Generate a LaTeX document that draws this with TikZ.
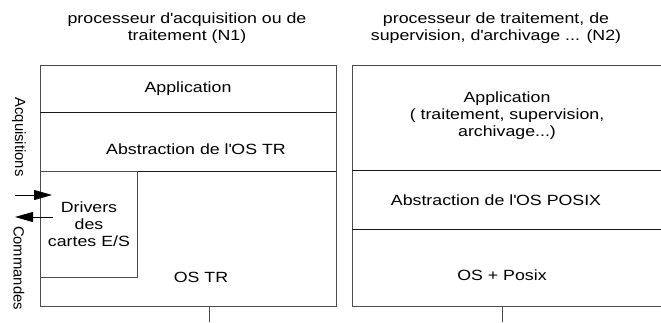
\documentclass[tikz,border=0pt]{standalone}
\usepackage{fontspec}
\setmainfont{Liberation Sans}[FakeStretch=1.2]
\newfontfamily\sidefont{Liberation Sans}
\usetikzlibrary{arrows.meta}
\newcommand{\q}{\textquotesingle}

\begin{document}
\begin{tikzpicture}[x=1pt,y=-1pt,
  every node/.style={inner sep=0pt,align=center,font=\fontsize{14.8}{17}\selectfont},
  frame/.style={draw=black!70,line width=0.9pt},
  layersep/.style={draw=black!90,line width=0.9pt},
  sidelabel/.style={rotate=-90,font=\sidefont\fontsize{14.8}{17}\selectfont},
  io/.style={draw=black,line width=0.8pt,-{Triangle[length=18pt,width=10pt]}}]
\useasboundingbox (0,0) rectangle (661,322);
% titles
\node (title1) at (187,28) {processeur d\q acquisition ou de\\traitement (N1)};
\node (title2) at (496,28) {processeur de traitement, de\\supervision, d\q archivage ... (N2)};
% stack N1
\node [frame,anchor=north west,minimum width=296,minimum height=240.5] (n1) at (40,65) {};
\draw [layersep] (40,112) -- (336,112);
\draw [layersep] (40,171) -- (336,171);
\node [frame,anchor=north west,minimum width=97,minimum height=106] (drv) at (40,171) {};
\node (app1) at (188,89) {Application};
\node (abs1) at (196,149) {Abstraction de l\q OS TR};
\node (drvtxt) at (drv.center) {Drivers\\des\\cartes E/S};
\node (os1) at (201,277) {OS TR};
% stack N2
\node [frame,anchor=north west,minimum width=312,minimum height=240.5] (n2) at (352,65) {};
\draw [layersep] (352,170) -- (664,170);
\draw [layersep] (352,229) -- (664,229);
\node (app2) at (507,116) {Application\\( traitement, supervision,\\archivage...)};
\node (abs2) at (496,200) {Abstraction de l\q OS POSIX};
\node (os2) at (502,275) {OS + Posix};
% E/S
\node [sidelabel] (acq) at (19,137) {Acquisitions};
\node [sidelabel] (cmd) at (19,268) {Commandes};
\coordinate (acqin) at (15,195);
\coordinate (acqtip) at (52,195);
\coordinate (cmdout) at (53,217);
\coordinate (cmdtip) at (15,217);
\draw [io] (acqin) -- (acqtip);
\draw [io] (cmdout) -- (cmdtip);
% liaisons
\coordinate (bus1) at (209,322);
\coordinate (bus2) at (502,322);
\draw [frame] (n1.south -| bus1) -- (bus1);
\draw [frame] (n2.south -| bus2) -- (bus2);
\end{tikzpicture}
\end{document}
